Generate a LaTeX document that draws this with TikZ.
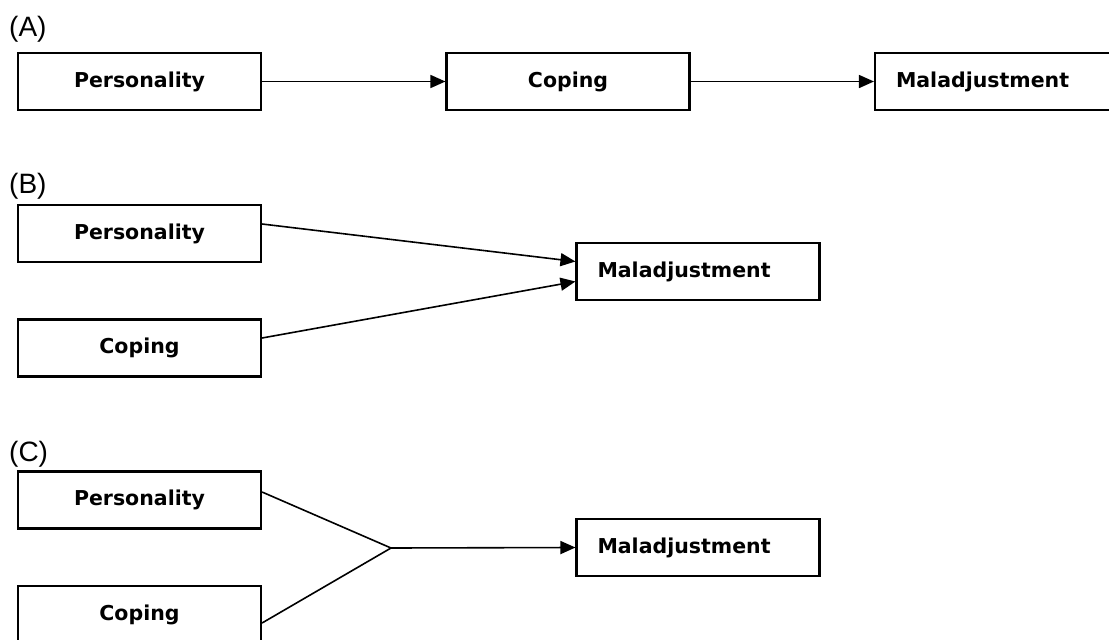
\documentclass[tikz,border=0pt]{standalone}
\usepackage{fontspec}
\setmainfont{DejaVu Sans}
\newfontfamily\labelfont{Liberation Sans}
\usetikzlibrary{arrows.meta}
\begin{document}
\begin{tikzpicture}[x=1pt,y=-1pt,
  box/.style={draw, line width=2.1pt, minimum width=243pt, minimum height=57pt, inner sep=0pt, font=\bfseries\fontsize{20.5}{24}\selectfont},
  mbox/.style={box, text width=201pt, inner xsep=21pt, align=left},
  conn/.style={line width=1.6pt},
  arr/.style={conn, -{Triangle[length=15pt,width=13pt]}},
  lab/.style={anchor=base west, inner sep=0pt, font=\labelfont\fontsize{28}{32}\selectfont}]
\useasboundingbox (0,0) rectangle (1109,640);
\clip (0,0) rectangle (1109,640);
% (A)
\node[lab] (la) at (9,36) {(A)};
\node[box] (pa) at (139.5,81.5) {Personality};
\node[box] (ca) at (568,81.5) {Coping};
\node[mbox] (ma) at (996.5,81.5) {Maladjustment};
\draw[arr] (pa) -- (ca);
\draw[arr] (ca) -- (ma);
% (B)
\node[lab] (lb) at (9,193) {(B)};
\node[box] (pb) at (139.5,233.5) {Personality};
\node[box] (cb) at (139.5,348) {Coping};
\node[mbox] (mb) at (698,271.5) {Maladjustment};
\draw[arr] ([yshift=9.5pt]pb.east) -- ([yshift=10pt]mb.west);
\draw[arr] ([yshift=10pt]cb.east) -- ([yshift=-10pt]mb.west);
% (C)
\node[lab] (lc) at (9,461) {(C)};
\node[box] (pc) at (139.5,500) {Personality};
\node[box] (cc) at (139.5,614.5) {Coping};
\node[mbox] (mc) at (698,547.5) {Maladjustment};
\coordinate (j) at (391,548);
\draw[conn] ([yshift=8pt]pc.east) -- (j) -- ([yshift=-8.5pt]cc.east);
\draw[arr] (j) -- (mc.west);
\end{tikzpicture}
\end{document}
